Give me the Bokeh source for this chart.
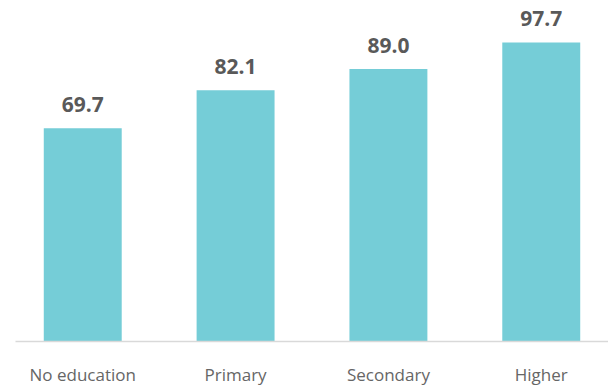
from bokeh.plotting import figure
from bokeh.models import ColumnDataSource, FactorRange, Range1d, LabelSet
from bokeh.core.properties import value
from bokeh.embed import file_html
from bokeh.resources import INLINE

categories = ["No education", "Primary", "Secondary", "Higher"]
values = [69.7, 82.1, 89.0, 97.7]
value_labels = ["69.7", "82.1", "89.0", "97.7"]

src = ColumnDataSource(dict(cat=categories, val=values, lab=value_labels))

p = figure(
    x_range=FactorRange(*categories, range_padding=-0.06, range_padding_units="absolute"),
    y_range=Range1d(0, 108.8),
    frame_width=593, frame_height=333,
    min_border_left=15, min_border_right=0, min_border_top=8, min_border_bottom=0,
    output_backend="svg", toolbar_location=None,
)
p.vbar(x="cat", top="val", width=0.51, source=src, color="#75CDD7", line_color=None)

labels = LabelSet(x="cat", y="val", text="lab", source=src, y_offset=16,
                  text_align="center", text_baseline="alphabetic",
                  text_font=value("Open Sans"), text_font_style="bold",
                  text_font_size=value("21px"), text_color="#595959")
p.add_layout(labels)

p.yaxis.visible = False
p.xgrid.grid_line_color = None
p.ygrid.grid_line_color = None
p.outline_line_color = None
p.xaxis.axis_line_color = "#d9d9d9"
p.xaxis.axis_line_width = 1.5
p.xaxis.major_tick_line_color = None
p.xaxis.minor_tick_line_color = None
p.xaxis.major_label_standoff = 15
p.xaxis.major_label_text_font = "Open Sans"
p.xaxis.major_label_text_font_size = "17px"
p.xaxis.major_label_text_color = "#666666"
p.background_fill_color = "white"
p.border_fill_color = "white"

open("out.html", "w").write(file_html(p, INLINE))
